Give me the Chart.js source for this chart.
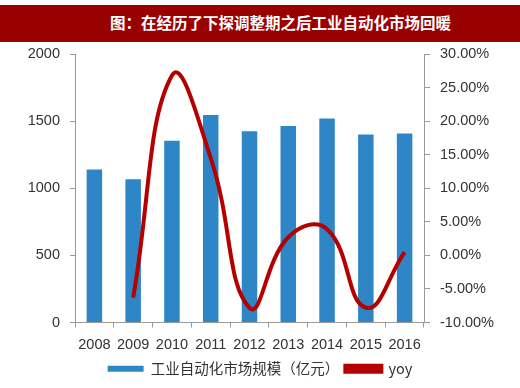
<!DOCTYPE html>
<html>
<head>
<meta charset="utf-8">
<script src="https://cdn.jsdelivr.net/npm/chart.js@4"></script>
<style>
  body { margin: 0; background: #fff; }
  #wrap { position: relative; width: 520px; height: 388px; }
  #title {
    position: absolute; left: 0; top: 5px; width: 520px; height: 37px;
    background: #990000; color: #fff;
    font: bold 15.5px "Noto Sans CJK SC", sans-serif;
    line-height: 35px; box-sizing: border-box; padding-left: 110px;
  }
  canvas { position: absolute; left: 0; top: 0; }
</style>
</head>
<body>
<div id="wrap">
  <canvas id="marketChart" width="520" height="388"></canvas>
  <div id="title">图：在经历了下探调整期之后工业自动化市场回暖</div>
</div>
<script>
// chart data
const years = ['2008', '2009', '2010', '2011', '2012', '2013', '2014', '2015', '2016'];
const marketSize = [1139, 1067, 1353, 1545, 1425, 1463, 1520, 1401, 1408];
const yoy = [null, -6.3, 26.8, 14.5, -7.8, 2.7, 3.9, -7.8, 0.5];

const textColor = '#333';
const axisColor = '#9a9a9a';
const tickFont = { family: '"Liberation Sans", Arial, sans-serif', size: 14.5 };

const ctx = document.getElementById('marketChart').getContext('2d');
const chart = new Chart(ctx, {
  data: {
    labels: years,
    datasets: [
      {
        type: 'bar',
        label: '工业自动化市场规模（亿元）',
        data: marketSize,
        backgroundColor: '#2e86c7',
        borderWidth: 0,
        categoryPercentage: 1,
        barPercentage: 0.4,
        yAxisID: 'y',
        order: 2
      },
      {
        type: 'line',
        label: 'yoy',
        data: yoy,
        borderColor: '#b50000',
        backgroundColor: '#b50000',
        borderWidth: 4,
        pointRadius: 0,
        tension: 0.45,
        yAxisID: 'y1',
        order: 1
      }
    ]
  },
  options: {
    responsive: false,
    animation: false,
    layout: { padding: { top: 54, bottom: 2 } },
    plugins: {
      title: { display: false },
      tooltip: { enabled: false },
      legend: {
        position: 'bottom',
        labels: {
          boxWidth: 36,
          boxHeight: 6,
          color: textColor,
          padding: 6,
          sort: (a, b) => a.datasetIndex - b.datasetIndex,
          font: { family: '"Noto Sans CJK SC", sans-serif', size: 14.5 }
        }
      }
    },
    scales: {
      x: {
        afterFit: (scale) => { scale.height = 33; },
        grid: { drawOnChartArea: false, color: axisColor, tickLength: 5 },
        border: { color: axisColor },
        ticks: { color: textColor, font: tickFont, padding: 9, maxRotation: 0 }
      },
      y: {
        position: 'left',
        min: 0,
        max: 2000,
        afterFit: (scale) => { scale.width = 75; },
        grid: { drawOnChartArea: false, color: axisColor, tickLength: 5 },
        border: { color: axisColor },
        ticks: {
          stepSize: 500,
          color: textColor,
          font: tickFont,
          padding: 10,
          callback: (v) => String(v)
        }
      },
      y1: {
        position: 'right',
        min: -10,
        max: 30,
        afterFit: (scale) => { scale.width = 96; },
        grid: { drawOnChartArea: false, color: axisColor, tickLength: 6 },
        border: { color: axisColor },
        ticks: {
          stepSize: 5,
          color: textColor,
          font: tickFont,
          padding: 10,
          callback: (v) => v.toFixed(2) + '%'
        }
      }
    }
  }
});
</script>
</body>
</html>
